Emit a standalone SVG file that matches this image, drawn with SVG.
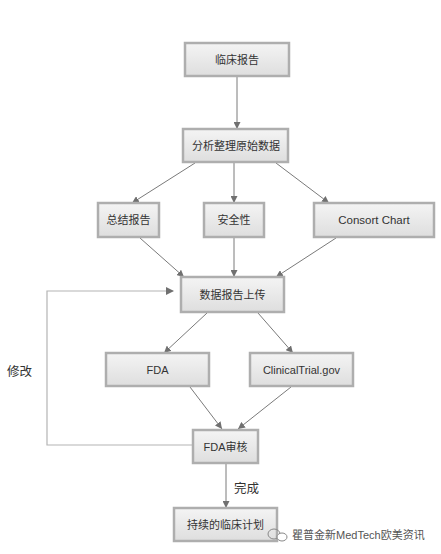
<svg xmlns="http://www.w3.org/2000/svg" width="441" height="554" viewBox="0 0 441 554">
<defs>
<linearGradient id="g" x1="0" y1="0" x2="0" y2="1">
<stop offset="0" stop-color="#f4f4f4"/>
<stop offset="1" stop-color="#dedede"/>
</linearGradient>
<marker id="ah" viewBox="0 0 10 10" refX="10" refY="5" markerWidth="7" markerHeight="7" orient="auto" markerUnits="userSpaceOnUse">
<path d="M0,0 L10,5 L0,10 z" fill="#707070"/>
</marker>
</defs>
<style>
.box{fill:url(#g);stroke:#aeaeae;stroke-width:2.5}
.t{font-family:"Liberation Sans","Noto Sans CJK SC",sans-serif;font-size:11px;fill:#333;text-anchor:middle;dominant-baseline:central}
.lbl{font-family:"Noto Sans CJK SC",sans-serif;font-size:12.5px;fill:#333;dominant-baseline:central}
.c{stroke:#7a7a7a;stroke-width:1;fill:none;marker-end:url(#ah)}
.fb{stroke:#b4b4b4;stroke-width:1.2;fill:none}
.wm{font-family:"Liberation Sans","Noto Sans CJK SC",sans-serif;font-size:11px;fill:#555}
</style>
<rect width="441" height="554" fill="#fff"/>
<g id="connectors">
<line class="c" x1="237" y1="76" x2="237" y2="129"/>
<line class="c" x1="195" y1="163" x2="132" y2="203"/>
<line class="c" x1="234" y1="163" x2="234" y2="203"/>
<line class="c" x1="276" y1="163" x2="329" y2="203"/>
<line class="c" x1="140" y1="238" x2="184" y2="277"/>
<line class="c" x1="234" y1="238" x2="234" y2="277"/>
<line class="c" x1="336" y1="238" x2="276" y2="277"/>
<line class="c" x1="207" y1="313" x2="164" y2="353"/>
<line class="c" x1="258" y1="313" x2="293" y2="353"/>
<line class="c" x1="190" y1="387" x2="222" y2="429"/>
<line class="c" x1="291" y1="387" x2="238" y2="429"/>
<line class="c" x1="226" y1="464" x2="226" y2="508"/>
<path class="fb" d="M193,445 H47 V291 H173"/>
<path d="M166,287 L174,291 L166,295 z" fill="#707070"/>
</g>
<g id="n1"><rect class="box" x="185" y="43" width="104" height="33"/><text class="t" x="237" y="60">临床报告</text></g>
<g id="n2"><rect class="box" x="183" y="129" width="105" height="33"/><text class="t" x="236" y="146">分析整理原始数据</text></g>
<g id="n3"><rect class="box" x="98" y="203" width="61" height="34"/><text class="t" x="128.5" y="220">总结报告</text></g>
<g id="n4"><rect class="box" x="204" y="203" width="60" height="34"/><text class="t" x="234" y="220">安全性</text></g>
<g id="n5"><rect class="box" x="314" y="203" width="120" height="34"/><text class="t" x="374" y="220" style="font-size:11.5px">Consort Chart</text></g>
<g id="n6"><rect class="box" x="181" y="277" width="103" height="35"/><text class="t" x="232.5" y="295">数据报告上传</text></g>
<g id="n7"><rect class="box" x="106" y="353" width="103" height="33"/><text class="t" x="157.5" y="370">FDA</text></g>
<g id="n8"><rect class="box" x="250" y="353" width="103" height="33"/><text class="t" x="301.5" y="370">ClinicalTrial.gov</text></g>
<g id="n9"><rect class="box" x="193" y="430" width="65" height="33"/><text class="t" x="225.5" y="447">FDA审核</text></g>
<g id="n10"><rect class="box" x="174" y="508" width="103" height="33"/><text class="t" x="225.5" y="525">持续的临床计划</text></g>
<text class="lbl" x="7" y="370">修改</text>
<text class="lbl" x="234" y="487">完成</text>
<g id="watermark">
<ellipse cx="274" cy="534" rx="6" ry="5" fill="none" stroke="#888" stroke-width="1"/>
<ellipse cx="282" cy="537" rx="5" ry="4" fill="#fff" stroke="#888" stroke-width="1"/>
<text class="wm" x="292" y="539">瞿普金新MedTech欧美资讯</text>
</g>
</svg>
